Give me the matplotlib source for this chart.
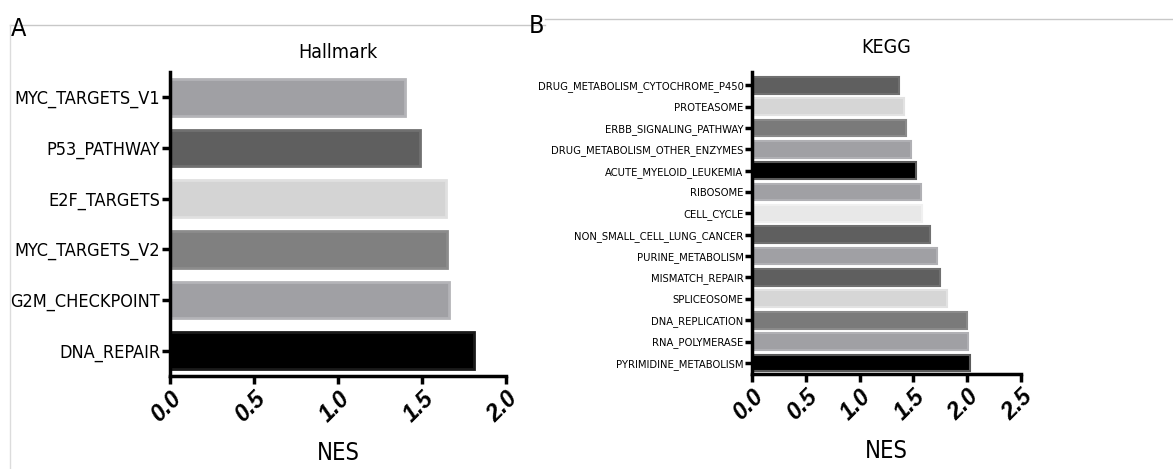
import matplotlib.pyplot as plt
from matplotlib.lines import Line2D
from matplotlib import font_manager as fm

# Hallmark gene sets (top to bottom)
hallmark_terms = ['MYC_TARGETS_V1', 'P53_PATHWAY', 'E2F_TARGETS',
                  'MYC_TARGETS_V2', 'G2M_CHECKPOINT', 'DNA_REPAIR']
hallmark_nes = [1.40, 1.49, 1.64, 1.65, 1.66, 1.81]
hallmark_colors = ['#a0a0a4', '#5f5f5f', '#d4d4d4', '#808080', '#a0a0a4', '#000000']
hallmark_edges = ['#b4b4b8', '#707070', '#e0e0e0', '#8c8c8c', '#b4b4b8', '#1a1a1a']

# KEGG pathways (top to bottom)
kegg_terms = ['DRUG_METABOLISM_CYTOCHROME_P450', 'PROTEASOME', 'ERBB_SIGNALING_PATHWAY',
              'DRUG_METABOLISM_OTHER_ENZYMES', 'ACUTE_MYELOID_LEUKEMIA', 'RIBOSOME',
              'CELL_CYCLE', 'NON_SMALL_CELL_LUNG_CANCER', 'PURINE_METABOLISM',
              'MISMATCH_REPAIR', 'SPLICEOSOME', 'DNA_REPLICATION', 'RNA_POLYMERASE',
              'PYRIMIDINE_METABOLISM']
kegg_nes = [1.37, 1.41, 1.43, 1.48, 1.52, 1.57, 1.58, 1.65, 1.72, 1.75, 1.81,
            2.00, 2.01, 2.03]
kegg_colors = ['#5f5f5f', '#d6d6d6', '#7a7a7a', '#a0a0a4', '#000000', '#a0a0a4',
               '#e8e8e8', '#5f5f5f', '#a0a0a4', '#5f5f5f', '#d6d6d6', '#7a7a7a',
               '#a0a0a4', '#000000']
kegg_edges = ['#707070', '#e2e2e2', '#8a8a8a', '#b0b0b4', '#5a5a5a', '#b0b0b4',
              '#f0f0f0', '#707070', '#b0b0b4', '#707070', '#e2e2e2', '#8a8a8a',
              '#b0b0b4', '#5a5a5a']

# look for a narrow sans font (the original uses Arial Narrow-like lettering)
narrow = None
for f in fm.fontManager.ttflist:
    tag = f.name + ' ' + str(f.stretch)
    if ('Narrow' in tag or 'ondensed' in tag) and f.style == 'normal' \
            and f.weight in (400, 'normal', 'regular') and 'Mono' not in f.name:
        if narrow is None or 'Liberation' in f.name or 'Arial' in f.name:
            narrow = f

if narrow is not None:
    lab_font = fm.FontProperties(fname=narrow.fname)
    k = 1.0
else:
    lab_font = fm.FontProperties(family='Liberation Sans')
    k = 0.84

plt.rcParams['font.family'] = ['Liberation Sans', 'DejaVu Sans']

fig = plt.figure(figsize=(11.73, 4.69), dpi=100)

# faint frame lines from the original screenshot
fig.add_artist(Line2D([10 / 1173, 545 / 1173], [1 - 25 / 469, 1 - 25 / 469],
                      color='#c8c8c8', lw=1))
fig.add_artist(Line2D([545 / 1173, 1.0], [1 - 19 / 469, 1 - 19 / 469],
                      color='#c8c8c8', lw=1))
fig.add_artist(Line2D([10 / 1173, 10 / 1173], [0, 1 - 25 / 469],
                      color='#dcdcdc', lw=1))


def style_axis(ax, xmax):
    for side in ['top', 'right']:
        ax.spines[side].set_visible(False)
    for side in ['left', 'bottom']:
        ax.spines[side].set_linewidth(2.5)
    ax.set_xlim(0, xmax)
    ax.tick_params(axis='both', width=2.5, length=6)
    ax.tick_params(axis='y', pad=1)
    ax.tick_params(axis='x', pad=2)
    ax.set_xlabel('NES', fontproperties=lab_font, fontsize=17 * k, labelpad=10)
    for lab in ax.get_xticklabels():
        lab.set_rotation(45)
        lab.set_ha('right')
        lab.set_rotation_mode('anchor')
        lab.set_fontsize(17)
        lab.set_fontweight('bold')
        lab.set_fontstyle('italic')


# Panel A
ax1 = fig.add_axes([170 / 1173, 1 - 376 / 469, 336 / 1173, 304 / 469])
ax1.barh(range(len(hallmark_terms)), hallmark_nes, height=0.72,
         color=hallmark_colors, edgecolor=hallmark_edges, linewidth=2)
ax1.set_ylim(len(hallmark_terms) - 0.5, -0.5)
ax1.set_yticks(range(len(hallmark_terms)))
ax1.set_yticklabels(hallmark_terms, fontproperties=lab_font, fontsize=13 * k)
ax1.set_xticks([0, 0.5, 1.0, 1.5, 2.0])
ax1.set_xticklabels(['0.0', '0.5', '1.0', '1.5', '2.0'])
style_axis(ax1, 2.0)
ax1.set_title('Hallmark', fontproperties=lab_font, fontsize=14 * k, pad=10)

# Panel B
ax2 = fig.add_axes([752 / 1173, 1 - 374 / 469, 269 / 1173, 302 / 469])
ax2.barh(range(len(kegg_terms)), kegg_nes, height=0.78,
         color=kegg_colors, edgecolor=kegg_edges, linewidth=1.5)
ax2.set_ylim(len(kegg_terms) - 0.48, -0.62)
ax2.set_yticks(range(len(kegg_terms)))
ax2.set_yticklabels(kegg_terms, fontproperties=lab_font, fontsize=8 * k)
ax2.set_xticks([0, 0.5, 1.0, 1.5, 2.0, 2.5])
ax2.set_xticklabels(['0.0', '0.5', '1.0', '1.5', '2.0', '2.5'])
style_axis(ax2, 2.5)
ax2.tick_params(axis='y', length=5)
ax2.set_title('KEGG', fontproperties=lab_font, fontsize=14 * k, pad=14)

fig.text(11 / 1173, 1 - 36 / 469, 'A', fontproperties=lab_font, fontsize=18 * k)
fig.text(529 / 1173, 1 - 33 / 469, 'B', fontproperties=lab_font, fontsize=18 * k)

fig.savefig('out.png', dpi=100)
